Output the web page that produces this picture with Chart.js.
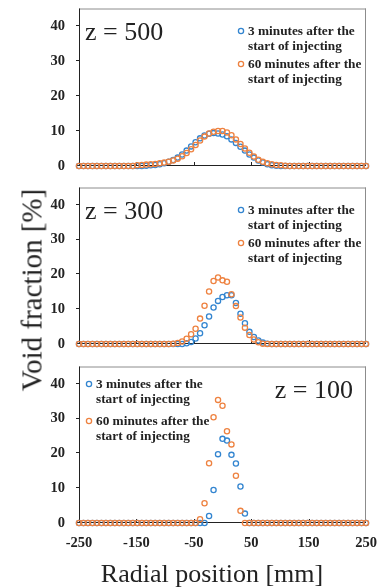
<!DOCTYPE html>
<html><head><meta charset="utf-8">
<script src="https://cdn.jsdelivr.net/npm/chart.js@4/dist/chart.umd.min.js"></script>
<style>
html,body{margin:0;padding:0;background:#fff;}
#wrap{position:relative;width:385px;height:587px;overflow:hidden;background:#fff;}
canvas{position:absolute;left:0;}
.ttl{position:absolute;font-family:"Liberation Serif","Times New Roman",serif;color:#222;white-space:nowrap;line-height:1;}
#ytitle{left:32px;top:290px;font-size:29px;transform:translate(-50%,-50%) rotate(-90deg);}
#xtitle{left:212px;top:561px;font-size:26px;transform:translateX(-50%);}
</style></head><body>
<div id="wrap">
<canvas id="c1" width="385" height="180" style="top:0"></canvas>
<canvas id="c2" width="385" height="180" style="top:180px"></canvas>
<canvas id="c3" width="385" height="227" style="top:360px"></canvas>
<div class="ttl" id="ytitle">Void fraction [%]</div>
<div class="ttl" id="xtitle">Radial position [mm]</div>
</div>
<script>
// ---- data ----
const radialPos = [-250,-242.2,-234.4,-226.6,-218.8,-210.9,-203.1,-195.3,-187.5,-179.7,-171.9,-164.1,-156.3,-148.4,-140.6,-132.8,-125,-117.2,-109.4,-101.6,-93.8,-85.9,-78.1,-70.3,-62.5,-54.7,-46.9,-39.1,-31.3,-23.4,-15.6,-7.8,0,7.8,15.6,23.4,31.3,39.1,46.9,54.7,62.5,70.3,78.1,85.9,93.8,101.6,109.4,117.2,125,132.8,140.6,148.4,156.3,164.1,171.9,179.7,187.5,195.3,203.1,210.9,218.8,226.6,234.4,242.2,250];

const z500_3min = [0,0,0,0,0,0,0,0,0,0,0,0,0,0,0,
  0.1,0.2,0.3,0.5,0.8,1.2,1.7,2.4,3.3,4.4,5.6,6.8,7.9,8.7,9.2,9.4,9.3,9.0,8.5,7.6,6.6,5.5,4.4,3.3,2.4,1.6,1.0,0.5,0.2,0.1,
  0,0,0,0,0,0,0,0,0,0,0,0,0,0,0,0,0,0,0,0];
const z500_60min = [0,0,0,0,0,0,0,0,0,0,0,0,0,
  0.2,0.3,0.4,0.5,0.6,0.8,1.0,1.2,1.6,2.1,2.8,3.7,4.8,6.0,7.3,8.4,9.3,9.8,10.0,10.0,9.6,8.8,7.6,6.3,5.0,3.8,2.7,1.8,1.2,0.8,0.5,0.3,0.2,0.1,
  0,0,0,0,0,0,0,0,0,0,0,0,0,0,0,0,0,0];

const z300_3min = [0,0,0,0,0,0,0,0,0,0,0,0,0,0,0,0,0,0,0,0,0,0,0,0,
  0.2,0.6,1.6,3.1,5.4,7.9,10.5,12.4,13.5,14.0,14.0,11.8,8.7,6.0,3.5,2.0,1.0,0.4,0.1,
  0,0,0,0,0,0,0,0,0,0,0,0,0,0,0,0,0,0,0,0,0,0];
const z300_60min = [0,0,0,0,0,0,0,0,0,0,0,0,0,0,0,0,0,0,0,0,0,
  0.1,0.3,0.7,1.5,2.8,4.4,7.3,11.0,15.1,18.1,19.1,18.3,17.9,14.3,10.9,7.6,4.7,2.6,1.3,0.5,0.1,
  0,0,0,0,0,0,0,0,0,0,0,0,0,0,0,0,0,0,0,0,0,0,0];

const z100_3min = [0,0,0,0,0,0,0,0,0,0,0,0,0,0,0,0,0,0,0,0,0,0,0,0,0,0,0,0,0,
  2.0,9.5,19.8,24.2,23.7,19.6,17.1,10.5,2.7,
  0,0,0,0,0,0,0,0,0,0,0,0,0,0,0,0,0,0,0,0,0,0,0,0,0,0,0];
const z100_60min = [0,0,0,0,0,0,0,0,0,0,0,0,0,0,0,0,0,0,0,0,0,0,0,0,0,0,0,
  1.1,5.7,17.2,30.4,35.4,33.7,26.4,22.6,13.6,3.5,
  0,0,0,0,0,0,0,0,0,0,0,0,0,0,0,0,0,0,0,0,0,0,0,0,0,0,0,0];

const yTicks = [0,10,20,30,40];
const xTicks = [-250,-150,-50,50,150,250];
const xMarkTicks = [-150,-50,50,150];
const series3Label = ['3 minutes after the','start of injecting'];
const series60Label = ['60 minutes after the','start of injecting'];
const panelLabels = ['z = 500','z = 300','z = 100'];

// ---- styling ----
const FONT = "'Liberation Serif','Times New Roman',serif";
const BLUE = '#3385D0';
const ORANGE = '#EE8240';
const INK = '#222';

const deco = {
  id: 'panelDeco',
  beforeDatasetsDraw(chart) {
    const {ctx, chartArea: a, scales} = chart;
    ctx.save();
    ctx.lineWidth = 1;
    ctx.strokeStyle = '#8c8c8c';
    ctx.beginPath();
    ctx.moveTo(a.left, a.top + 0.5); ctx.lineTo(a.right, a.top + 0.5);
    ctx.moveTo(a.right - 0.5, a.top); ctx.lineTo(a.right - 0.5, a.bottom);
    ctx.stroke();
    ctx.strokeStyle = INK;
    ctx.beginPath();
    ctx.moveTo(a.left + 0.5, a.top); ctx.lineTo(a.left + 0.5, a.bottom);
    ctx.moveTo(a.left, a.bottom - 0.5); ctx.lineTo(a.right, a.bottom - 0.5);
    yTicks.forEach(v => { const y = Math.round(scales.y.getPixelForValue(v)) - 0.5; ctx.moveTo(a.left - 3, y); ctx.lineTo(a.left + 1, y); });
    xMarkTicks.forEach(v => { const x = Math.round(scales.x.getPixelForValue(v)) + 0.5; ctx.moveTo(x, a.bottom); ctx.lineTo(x, a.bottom - 4); });
    ctx.stroke();
    ctx.restore();
  },
  afterDraw(chart) {
    const o = chart.options.plugins.panelDeco;
    const {ctx, chartArea: a} = chart;
    ctx.save();
    ctx.fillStyle = INK;
    ctx.font = '26px ' + FONT;
    ctx.textBaseline = 'alphabetic';
    if (o.labelSide === 'left') { ctx.textAlign = 'left'; ctx.fillText(o.label, a.left + 6, a.top + 31.5); }
    else { ctx.textAlign = 'right'; ctx.fillText(o.label, a.right - 13, a.top + 31.5); }
    const mx = o.legendSide === 'right' ? a.left + 162 : a.left + 10;
    const rows = o.legendSide === 'right' ? [22.5, 37.5, 55.5, 70.5] : [17.5, 33, 54.5, 70];
    const items = [[BLUE, series3Label], [ORANGE, series60Label]];
    ctx.font = 'bold 13.3px ' + FONT;
    ctx.textAlign = 'left';
    ctx.textBaseline = 'middle';
    items.forEach((it, k) => {
      const y1 = a.top + rows[k * 2], y2 = a.top + rows[k * 2 + 1];
      ctx.strokeStyle = it[0]; ctx.lineWidth = 1.3;
      ctx.beginPath(); ctx.arc(mx, y1, 2.6, 0, Math.PI * 2); ctx.stroke();
      ctx.fillStyle = INK;
      ctx.fillText(it[1][0], mx + 7, y1 + 0.5);
      ctx.fillText(it[1][1], mx + 7, y2 + 0.5);
    });
    ctx.restore();
  }
};

function makePanel(id, d3, d60, cfg) {
  const pts = arr => arr.map((v, i) => ({x: radialPos[i], y: v}));
  const tickFont = {family: FONT, size: 14.5, weight: 'bold'};
  return new Chart(document.getElementById(id), {
    type: 'scatter',
    data: {
      datasets: [
        {label: series60Label.join(' '), data: pts(d60), order: 0, borderColor: ORANGE, backgroundColor: 'rgba(0,0,0,0)', pointRadius: 2.6, pointBorderWidth: 1.3, clip: false},
        {label: series3Label.join(' '), data: pts(d3), order: 1, borderColor: BLUE, backgroundColor: 'rgba(0,0,0,0)', pointRadius: 2.6, pointBorderWidth: 1.3, clip: false}
      ]
    },
    options: {
      responsive: false, animation: false, devicePixelRatio: 1,
      layout: {padding: {top: cfg.padTop, right: 19, left: 0, bottom: 0}},
      events: [],
      plugins: {
        legend: {display: false}, tooltip: {enabled: false},
        panelDeco: {label: cfg.label, labelSide: cfg.labelSide, legendSide: cfg.legendSide}
      },
      scales: {
        x: {
          type: 'linear', min: -250, max: 250,
          afterBuildTicks: s => { s.ticks = xTicks.map(v => ({value: v})); },
          ticks: {display: cfg.showX, font: tickFont, color: INK, padding: 12, maxRotation: 0, autoSkip: false, callback: v => String(v)},
          grid: {display: false, drawTicks: false}, border: {display: false},
          afterFit: s => { s.height = cfg.xH; s.paddingLeft = 0; s.paddingRight = 0; }
        },
        y: {
          min: 0, max: 45,
          afterBuildTicks: s => { s.ticks = yTicks.map(v => ({value: v})); },
          ticks: {font: tickFont, color: INK, padding: 14, callback: v => String(v)},
          grid: {display: false, drawTicks: false}, border: {display: false},
          afterFit: s => { s.width = 79; s.paddingTop = 0; s.paddingBottom = 0; }
        }
      }
    },
    plugins: [deco]
  });
}

makePanel('c1', z500_3min, z500_60min, {padTop: 8.5, xH: 14, showX: false, label: panelLabels[0], labelSide: 'left', legendSide: 'right'});
makePanel('c2', z300_3min, z300_60min, {padTop: 7.5, xH: 16, showX: false, label: panelLabels[1], labelSide: 'left', legendSide: 'right'});
makePanel('c3', z100_3min, z100_60min, {padTop: 6.5, xH: 64, showX: true, label: panelLabels[2], labelSide: 'right', legendSide: 'left'});
</script>
</body></html>
